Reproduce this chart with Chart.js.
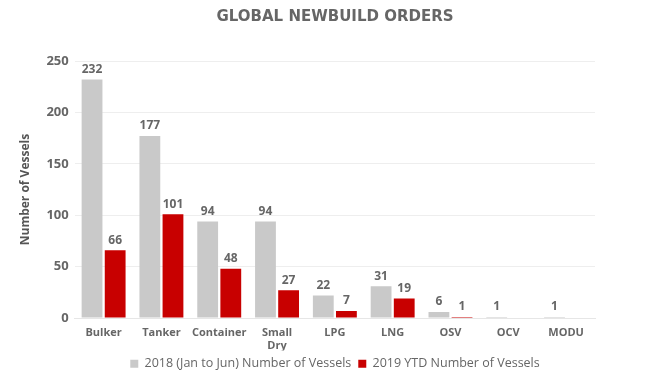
<!DOCTYPE html>
<html><head><meta charset="utf-8">
<script src="https://cdn.jsdelivr.net/npm/chart.js@4/dist/chart.umd.min.js"></script>
<style>html,body{margin:0;padding:0;background:#fff}#wrap{width:670px;height:380px}</style>
</head><body><div id="wrap"><canvas id="c" width="670" height="380"></canvas></div>
<script>
const categories = ["Bulker","Tanker","Container",["Small","Dry"],"LPG","LNG","OSV","OCV","MODU"];
const series2018 = [232,177,94,94,22,31,6,1,1];
const series2019 = [66,101,48,27,7,19,1,null,null];
const seriesNames = ["2018 (Jan to Jun) Number of Vessels","2019 YTD Number of Vessels"];
const yTicks = [0,50,100,150,200,250];

const FONT = "'Open Sans', 'DejaVu Sans', sans-serif";
const labelPlugin = {
  id:'barLabels',
  afterDatasetsDraw(chart){
    const ctx = chart.ctx;
    ctx.save();
    ctx.font = "bold 12px " + FONT;
    ctx.fillStyle = "#666";
    ctx.textAlign = "center";
    ctx.textBaseline = "bottom";
    chart.data.datasets.forEach((ds,i)=>{
      const meta = chart.getDatasetMeta(i);
      meta.data.forEach((bar,j)=>{
        const v = ds.data[j];
        if (v === null || v === undefined) return;
        ctx.fillText(String(v), bar.x, bar.y - 4);
      });
    });
    ctx.restore();
  }
};

new Chart(document.getElementById('c'), {
  type:'bar',
  data:{
    labels: categories,
    datasets:[
      {label: seriesNames[0], data: series2018, backgroundColor:'#c9c9c9', borderWidth:0, minBarLength:1},
      {label: seriesNames[1], data: series2019, backgroundColor:'#c80000', borderWidth:0, minBarLength:1}
    ]
  },
  options:{
    responsive:false,
    animation:false,
    layout:{padding:{left:14,right:14,top:4,bottom:0}},
    plugins:{
      title:{display:true,text:'GLOBAL NEWBUILD ORDERS',color:'#666',font:{family:"'DejaVu Sans', sans-serif",size:15,weight:'bold'},padding:{top:4,bottom:35}},
      legend:{position:'bottom',labels:{color:'#666',font:{family:FONT,size:12.5},boxWidth:8,boxHeight:8,padding:7}},
      tooltip:{enabled:false}
    },
    scales:{
      x:{
        grid:{display:false},
        border:{color:'#e6e6e6'},
        ticks:{color:'#666',font:{family:FONT,size:11,weight:'bold'},maxRotation:0,autoSkip:false,padding:0},
        categoryPercentage:0.655,
        barPercentage:1.0,
        afterFit(s){ s.height -= 2; }
      },
      y:{
        min:0,max:250,
        afterBuildTicks(axis){ axis.ticks = yTicks.map(v=>({value:v})); },
        grid:{color:'#eeeeee',drawTicks:false},
        border:{display:false},
        ticks:{color:'#666',font:{family:FONT,size:13,weight:'bold'},padding:6},
        title:{display:true,text:'Number of Vessels',color:'#555',font:{family:FONT,size:12,weight:'bold'},padding:{bottom:8}}
      },
      yRight:{
        position:'right',
        display:true,
        grid:{display:false,drawTicks:false},
        border:{display:false},
        ticks:{display:false},
        afterFit(s){ s.width = 61; }
      }
    }
  },
  plugins:[labelPlugin]
});
</script></body></html>
